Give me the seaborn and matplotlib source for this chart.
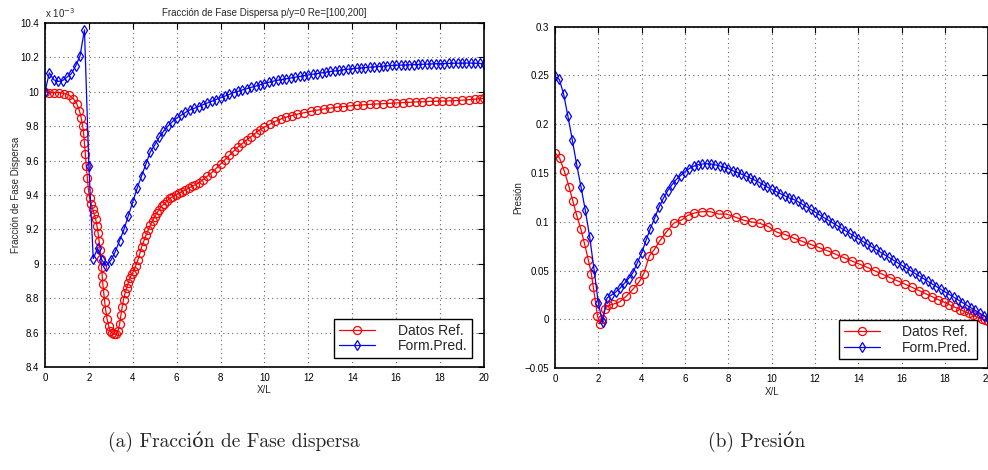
import matplotlib
matplotlib.use("Agg")
import matplotlib.pyplot as plt
import seaborn as sns

# ---- data ----
series_names = ["Datos Ref.", "Form.Pred."]

# (a) fraccion de fase dispersa, values in units of 1e-3
frac_ref_x = [0.0, 0.2, 0.42, 0.65, 0.88, 1.1, 1.3, 1.45, 1.57, 1.66, 1.72, 1.76, 1.8, 1.84,
              1.88, 1.93, 1.98, 2.04, 2.1, 2.17, 2.24, 2.31, 2.37, 2.42, 2.47, 2.51, 2.55,
              2.58, 2.61, 2.64, 2.68, 2.72, 2.77, 2.83, 2.9, 2.98, 3.07, 3.16, 3.25, 3.33,
              3.4, 3.46, 3.52, 3.58, 3.65, 3.72, 3.8, 3.88, 3.96, 4.05, 4.14, 4.23, 4.32,
              4.41, 4.5, 4.6, 4.7, 4.8, 4.9, 5.0, 5.1, 5.2, 5.32, 5.44, 5.56, 5.68, 5.8,
              5.95, 6.1, 6.25, 6.4, 6.55, 6.7, 6.85, 7.0, 7.2, 7.4, 7.6, 7.8, 8.0, 8.2,
              8.4, 8.6, 8.8, 9.0, 9.2, 9.4, 9.6, 9.8, 10.0, 10.25, 10.5, 10.75, 11.0,
              11.25, 11.5, 11.8, 12.1, 12.4, 12.7, 13.0, 13.3, 13.6, 13.9, 14.2, 14.5,
              14.8, 15.1, 15.4, 15.7, 16.0, 16.3, 16.6, 16.9, 17.2, 17.5, 17.8, 18.1,
              18.4, 18.7, 19.0, 19.3, 19.6, 19.8, 20.0]
frac_ref_y = [10.0, 9.995, 9.995, 9.995, 9.99, 9.98, 9.96, 9.93, 9.89, 9.845, 9.80, 9.76,
              9.70, 9.64, 9.57, 9.50, 9.43, 9.38, 9.35, 9.32, 9.29, 9.26, 9.22, 9.18, 9.13,
              9.08, 9.03, 8.98, 8.93, 8.88, 8.83, 8.78, 8.73, 8.68, 8.64, 8.61, 8.595, 8.59,
              8.59, 8.61, 8.65, 8.70, 8.75, 8.79, 8.83, 8.86, 8.89, 8.92, 8.94, 8.96, 8.99,
              9.02, 9.06, 9.10, 9.13, 9.165, 9.195, 9.225, 9.25, 9.275, 9.295, 9.315, 9.335,
              9.35, 9.365, 9.38, 9.39, 9.40, 9.41, 9.42, 9.43, 9.44, 9.45, 9.46, 9.47, 9.49,
              9.51, 9.53, 9.555, 9.58, 9.605, 9.63, 9.655, 9.68, 9.70, 9.72, 9.74, 9.76,
              9.78, 9.795, 9.812, 9.828, 9.842, 9.853, 9.862, 9.87, 9.878, 9.886, 9.893,
              9.90, 9.905, 9.91, 9.914, 9.918, 9.921, 9.924, 9.927, 9.929, 9.931, 9.933,
              9.935, 9.937, 9.939, 9.941, 9.942, 9.944, 9.945, 9.946, 9.947, 9.949, 9.951,
              9.954, 9.957, 9.96, 9.962]

pred_x = [0.0, 0.2, 0.4, 0.6, 0.8, 1.0, 1.2, 1.4, 1.6, 1.8, 2.0, 2.2, 2.4, 2.6, 2.8, 3.0,
          3.2, 3.4, 3.6, 3.8, 4.0, 4.2, 4.4, 4.6, 4.8, 5.0, 5.2, 5.4, 5.6, 5.8, 6.0, 6.2,
          6.4, 6.6, 6.8, 7.0, 7.2, 7.4, 7.6, 7.8, 8.0, 8.2, 8.4, 8.6, 8.8, 9.0, 9.2, 9.4,
          9.6, 9.8, 10.0, 10.2, 10.4, 10.6, 10.8, 11.0, 11.2, 11.4, 11.6, 11.8, 12.0, 12.2,
          12.4, 12.6, 12.8, 13.0, 13.2, 13.4, 13.6, 13.8, 14.0, 14.2, 14.4, 14.6, 14.8,
          15.0, 15.2, 15.4, 15.6, 15.8, 16.0, 16.2, 16.4, 16.6, 16.8, 17.0, 17.2, 17.4,
          17.6, 17.8, 18.0, 18.2, 18.4, 18.6, 18.8, 19.0, 19.2, 19.4, 19.6, 19.8, 20.0]
frac_pred_y = [10.00, 10.11, 10.07, 10.06, 10.065, 10.085, 10.105, 10.15, 10.21, 10.36, 9.57,
               9.03, 9.09, 9.02, 8.99, 9.02, 9.07, 9.135, 9.20, 9.28, 9.36, 9.44, 9.51, 9.58,
               9.65, 9.69, 9.735, 9.77, 9.80, 9.825, 9.847, 9.863, 9.88, 9.894, 9.904, 9.914,
               9.925, 9.935, 9.945, 9.955, 9.965, 9.975, 9.985, 9.995, 10.003, 10.011,
               10.018, 10.026, 10.033, 10.041, 10.048, 10.055, 10.062, 10.067, 10.072,
               10.076, 10.08, 10.085, 10.089, 10.094, 10.098, 10.102, 10.106, 10.11, 10.114,
               10.118, 10.121, 10.124, 10.128, 10.131, 10.134, 10.137, 10.139, 10.141,
               10.143, 10.145, 10.147, 10.149, 10.151, 10.153, 10.154, 10.155, 10.156,
               10.157, 10.158, 10.159, 10.160, 10.161, 10.162, 10.163, 10.164, 10.164,
               10.165, 10.166, 10.166, 10.167, 10.167, 10.167, 10.166, 10.165, 10.163]

# (b) presion
pres_ref_x = [0.0, 0.22, 0.43, 0.65, 0.83, 1.0, 1.19, 1.36, 1.54, 1.68, 1.77, 1.87, 1.96,
              2.06, 2.18, 2.3, 2.46, 2.7, 2.98, 3.3, 3.6, 3.9, 4.1, 4.35, 4.58, 4.85, 5.15,
              5.5, 5.85, 6.12, 6.42, 6.8, 7.16, 7.55, 7.92, 8.35, 8.74, 9.08, 9.46, 9.85,
              10.24, 10.62, 11.03, 11.42, 11.8, 12.18, 12.56, 12.94, 13.32, 13.7, 14.05,
              14.4, 14.75, 15.1, 15.45, 15.8, 16.15, 16.5, 16.8, 17.1, 17.4, 17.7, 17.95,
              18.2, 18.45, 18.7, 18.9, 19.1, 19.3, 19.5, 19.7, 19.85, 20.0]
pres_ref_y = [0.171, 0.165, 0.152, 0.136, 0.121, 0.107, 0.093, 0.078, 0.061, 0.047, 0.033,
              0.018, 0.004, -0.0045, 0.001, 0.011, 0.0145, 0.0158, 0.018, 0.024, 0.031,
              0.039, 0.047, 0.065, 0.0715, 0.081, 0.090, 0.099, 0.102, 0.1065, 0.109,
              0.1105, 0.1105, 0.108, 0.108, 0.1047, 0.1015, 0.100, 0.0985, 0.0952, 0.0895,
              0.087, 0.0833, 0.0800, 0.0770, 0.0738, 0.0705, 0.0670, 0.0635, 0.0600,
              0.0568, 0.0535, 0.0500, 0.0465, 0.0430, 0.0396, 0.0362, 0.0328, 0.0297,
              0.0265, 0.0234, 0.0203, 0.0178, 0.0152, 0.0127, 0.0102, 0.0082, 0.0062,
              0.0042, 0.0022, 0.0005, -0.0008, -0.002]
pres_pred_y = [0.249, 0.246, 0.231, 0.208, 0.184, 0.159, 0.136, 0.112, 0.085, 0.052, 0.017,
               -0.003, 0.022, 0.025, 0.028, 0.032, 0.037, 0.042, 0.048, 0.058, 0.068, 0.081,
               0.093, 0.104, 0.115, 0.124, 0.132, 0.138, 0.1435, 0.1475, 0.1515, 0.1547,
               0.157, 0.1585, 0.1593, 0.1596, 0.1593, 0.1585, 0.1574, 0.156, 0.1545, 0.1525,
               0.1508, 0.149, 0.147, 0.145, 0.143, 0.1408, 0.1382, 0.1356, 0.1334, 0.1312,
               0.129, 0.1268, 0.1246, 0.1232, 0.121, 0.1183, 0.1156, 0.1128, 0.1101, 0.1074,
               0.1046, 0.1019, 0.0992, 0.0965, 0.0937, 0.091, 0.0883, 0.0856, 0.0828,
               0.0801, 0.0774, 0.0747, 0.0719, 0.0692, 0.0665, 0.0638, 0.061, 0.0583,
               0.0556, 0.0529, 0.0501, 0.0474, 0.0447, 0.042, 0.0392, 0.0365, 0.0338,
               0.0311, 0.0283, 0.0256, 0.0229, 0.0202, 0.0174, 0.0147, 0.012, 0.0093,
               0.0066, 0.0039, 0.0012]

x_ticks = [0, 2, 4, 6, 8, 10, 12, 14, 16, 18, 20]
frac_ticks = [8.4, 8.6, 8.8, 9.0, 9.2, 9.4, 9.6, 9.8, 10.0, 10.2, 10.4]
frac_tick_labels = ["8.4", "8.6", "8.8", "9", "9.2", "9.4", "9.6", "9.8", "10", "10.2", "10.4"]
pres_ticks = [-0.05, 0.0, 0.05, 0.1, 0.15, 0.2, 0.25, 0.3]
pres_tick_labels = ["\u22120.05", "0", "0.05", "0.1", "0.15", "0.2", "0.25", "0.3"]

sns.set_style("white")
plt.rcParams["font.family"] = ["Liberation Sans", "DejaVu Sans"]

fig = plt.figure(figsize=(9.88, 4.70), dpi=100)
ax1 = fig.add_axes([0.0455, 0.2191, 0.4443, 0.7320])
# the right panel runs to the very edge, as in the cropped original
ax2 = fig.add_axes([0.5617, 0.2164, 0.4386, 0.7268])


def draw(ax, xr, yr, xp, yp):
    sns.lineplot(x=xr, y=yr, ax=ax, color="#ff0000", marker="o", markersize=5.8,
                 markerfacecolor="none", markeredgecolor="#ff0000", markeredgewidth=0.9,
                 linewidth=0.9, label=series_names[0], sort=False, estimator=None)
    sns.lineplot(x=xp, y=yp, ax=ax, color="#0000ff", marker="d", markersize=5.5,
                 markerfacecolor="none", markeredgecolor="#0000ff", markeredgewidth=0.9,
                 linewidth=0.9, label=series_names[1], sort=False, estimator=None)
    ax.set_xlim(0, 20)
    ax.set_xticks(x_ticks)
    ax.grid(True, linestyle=(0, (1, 3)), color="0.4", linewidth=0.8)
    ax.tick_params(direction="in", length=4, width=0.8, labelsize=7, top=True, right=True,
                   colors="black", pad=4)
    for s in ax.spines.values():
        s.set_color("black")
        s.set_linewidth(1.2)
    ax.set_xlabel("X/L", fontsize=7, labelpad=2)
    leg = ax.legend(loc="lower right", fontsize=10, frameon=True, fancybox=False,
                    edgecolor="black", framealpha=1, handlelength=2.6, handletextpad=1.6,
                    borderpad=0.35, labelspacing=0.1, borderaxespad=0.0,
                    bbox_to_anchor=(0.973, 0.026))
    leg.get_frame().set_linewidth(1.0)


draw(ax1, frac_ref_x, frac_ref_y, pred_x, frac_pred_y)
ax1.set_ylim(8.4, 10.4)
ax1.set_yticks(frac_ticks)
ax1.set_yticklabels(frac_tick_labels)
ax1.set_ylabel("Fracción de Fase Dispersa", fontsize=7, labelpad=0)
ax1.set_title("Fracción de Fase Dispersa p/y=0 Re=[100,200]", fontsize=7, pad=5)
ax1.text(0.0, 1.008, "x 10$^{-3}$", transform=ax1.transAxes, fontsize=7,
         ha="left", va="bottom")

draw(ax2, pres_ref_x, pres_ref_y, pred_x, pres_pred_y)
ax2.set_ylim(-0.05, 0.3)
ax2.set_yticks(pres_ticks)
ax2.set_yticklabels(pres_tick_labels)
ax2.set_ylabel("Presión", fontsize=7, labelpad=1)

cap_font = ["cmr10", "DejaVu Serif"]
fig.text(234 / 988, 1 - 442 / 470, "(a) Fracción de Fase dispersa", fontsize=14,
         family=cap_font, ha="center", va="center")
fig.text(757 / 988, 1 - 442 / 470, "(b) Presión", fontsize=14,
         family=cap_font, ha="center", va="center")

fig.savefig("out.png", dpi=100)
